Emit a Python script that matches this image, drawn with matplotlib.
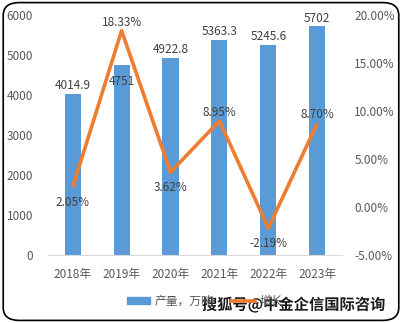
import matplotlib
matplotlib.use('Agg')
import numpy as np
from matplotlib import pyplot as plt
from matplotlib.patches import FancyBboxPatch, Patch
from matplotlib.lines import Line2D
import matplotlib.patheffects as pe

plt.rcParams['font.family'] = ['Noto Sans CJK SC', 'DejaVu Sans']

years = ['2018年', '2019年', '2020年', '2021年', '2022年', '2023年']
output = [4014.9, 4751, 4922.8, 5363.3, 5245.6, 5702]
growth = [2.05, 18.33, 3.62, 8.95, -2.19, 8.70]

# label offsets in points (bar labels, line labels)
bar_off = [6, -12, 6, 6, 6, 6]
line_off = [-11, 6, -11, 6, -11, 6]

blue = '#5B9BD5'
orange = '#ED7D31'
grey = '#595959'
fs = 8.5

fig = plt.figure(figsize=(4.02, 3.23), dpi=100)
ax = fig.add_axes([0.12, 0.21, 0.73, 0.745])
ax2 = ax.twinx()

x = np.arange(len(years))
ax.bar(x, output, width=0.33, color=blue, zorder=2)
ax2.plot(x, growth, color=orange, lw=2.6, solid_capstyle='butt', zorder=3)

ax.set_ylim(0, 6000)
ax.set_yticks(range(0, 6001, 1000))
ax2.set_ylim(-5, 20)
ax2.set_yticks(range(-5, 21, 5))
ax2.set_yticklabels([f'{v:.2f}%' for v in range(-5, 21, 5)])
ax.set_xlim(-0.5, len(years) - 0.5)
ax.set_xticks(x)
ax.set_xticklabels(years)

for a in (ax, ax2):
    for s in a.spines.values():
        s.set_visible(False)
    a.tick_params(length=0, labelsize=fs, colors=grey)
ax.spines['bottom'].set_visible(True)
ax.spines['bottom'].set_color('#D9D9D9')
ax.tick_params(axis='x', pad=9)
ax.tick_params(axis='y', pad=11)
ax2.tick_params(axis='y', pad=9)
ax2.set_zorder(ax.get_zorder() + 1)
ax2.patch.set_visible(False)

for i, v in enumerate(output):
    ax.annotate(f'{v:g}', (x[i], v), xytext=(0, bar_off[i]), textcoords='offset points',
                ha='center', va='center', fontsize=fs, color='#404040')
for i, v in enumerate(growth):
    ax2.annotate(f'{v:.2f}%', (x[i], v), xytext=(0, line_off[i]), textcoords='offset points',
                 ha='center', va='center', fontsize=fs, color='#404040')

# legend
handles = [Patch(color=blue, label='产量，万吨'), Line2D([], [], color=orange, lw=2.6, label='增长')]
fig.legend(handles=handles, loc='center', bbox_to_anchor=(0.51, 0.068), ncol=2, frameon=False,
           fontsize=fs, handlelength=2.0, handleheight=0.6, handletextpad=0.4,
           columnspacing=1.5, labelcolor=grey)

# watermark
fig.text(0.73, 0.056, '搜狐号@中金企信国际咨询', ha='center', va='center', fontsize=11,
         fontweight='bold', color='#1a1a1a',
         path_effects=[pe.withStroke(linewidth=2.5, foreground='white')])

# rounded outer border
fig.patches.append(FancyBboxPatch((0.008, 0.008), 0.984, 0.984, boxstyle='round,pad=0,rounding_size=0.04',
                                  transform=fig.transFigure, fill=False, ec='black', lw=1.2))

fig.savefig('out.png', dpi=100)
